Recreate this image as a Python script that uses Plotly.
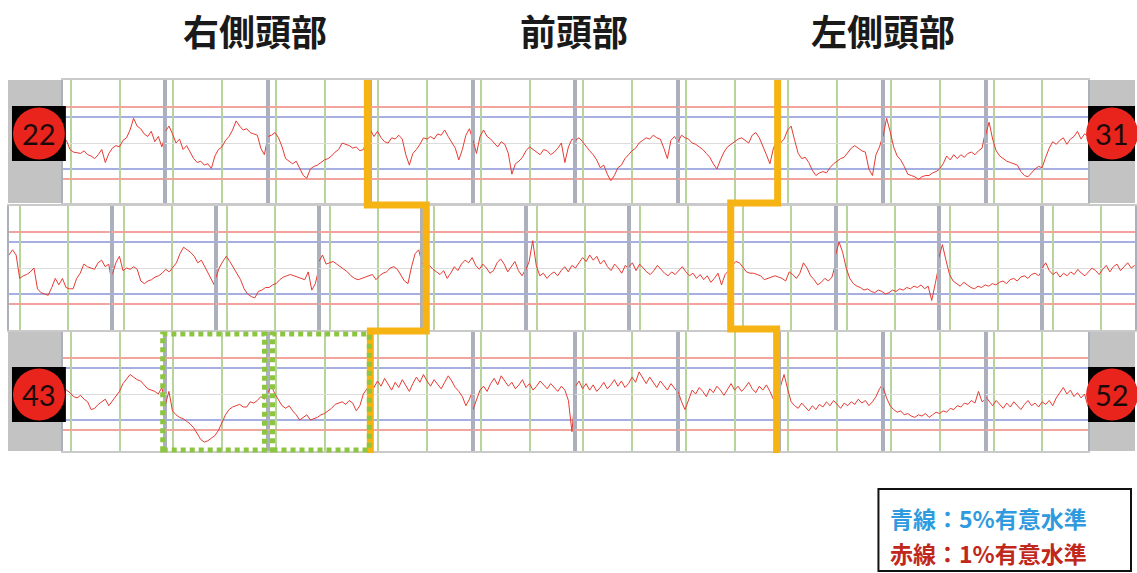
import numpy as np
import plotly.graph_objects as go

W, H = 1137, 573

# ---------------------------------------------------------------- text
region_titles = ["右側頭部", "前頭部", "左側頭部"]
legend_lines = ["青線：5%有意水準", "赤線：1%有意水準"]
legend_colors = ["#2f9bde", "#c0281b"]

# significance thresholds (t value) and task markers (s)
T05 = 2.0
T01 = 2.75
TASK_ON, TASK_OFF = 0, 49

row_channels = [list(range(22, 32)), list(range(32, 43)), list(range(43, 53))]

# ---------------------------------------------------------------- t-value time courses, 30 samples per channel
ch22 = [0.3, 0.2, -0.5, -0.7, -0.75, -0.8, -0.6, -0.9, -1.0, -1.2, -0.9, -0.5, -1.5, -0.8, -0.4,
        -0.2, -0.3, 0.2, 0.4, 1.0, 1.9, 1.3, 1.1, 0.7, 0.5, 0.9, 0.1, 0.5, -0.3, 0.6]
ch23 = [0.9, 1.3, 0.7, 0.0, 0.3, -0.5, -0.2, -0.7, -1.2, -1.5, -1.4, -1.7, -1.6, -1.95, -1.0,
        -0.5, -0.3, 0.2, 0.5, 1.0, 1.7, 1.3, 1.0, 1.1, 0.8, 0.7, 0.6, -0.4, -0.9, 0.5]
ch24 = [0.5, 0.6, 0.8, 0.4, -0.3, -1.2, -1.4, -1.6, -1.4, -1.9, -2.5, -2.7, -2.0, -1.8, -1.7,
        -1.5, -1.3, -1.2, -1.0, -0.7, -0.5, 0.0, -0.1, -0.2, -0.4, -0.3, -0.6, -0.5, 0.2, 1.0]
ch25 = [1.0, 0.5, 0.9, 0.4, 0.1, 0.0, 0.4, 0.3, 0.6, 0.3, -0.9, -1.7, -0.8, -0.5, -0.1,
        0.4, 0.3, 0.5, 0.3, 0.7, 0.6, 1.0, 0.5, 0.1, -0.4, -1.3, -0.5, 0.6, 1.1, 0.2]
ch26 = [0.2, -0.8, 0.5, 1.0, 0.5, 0.3, 0.0, -0.3, 0.1, -0.1, -0.8, -2.4, -1.6, -1.4, -1.1,
        -0.6, -0.3, -0.5, -0.7, -0.9, -0.5, -0.6, -0.9, -0.7, -0.4, 0.0, -1.5, -0.3, 0.3, 0.2]
ch27 = [0.2, 0.4, 0.1, -0.3, -0.6, -0.9, -1.3, -1.9, -1.7, -2.4, -2.9, -2.5, -1.9, -1.7, -1.2,
        -0.9, -0.6, -0.4, 0.0, 0.2, 0.4, 0.3, 0.6, 0.4, 0.3, -0.4, -1.2, 0.2, 0.5, 0.1]
ch28 = [0.1, 0.6, 0.4, 0.3, 0.0, -0.1, -0.3, -0.5, -0.8, -1.1, -1.6, -2.0, -1.3, -0.7, -0.3,
        -0.1, 0.1, 0.3, 0.4, 0.2, 0.0, 0.6, 0.8, 0.4, -0.2, -0.9, -1.6, -0.4, 0.2, 0.4]
ch29 = [0.0, 0.3, 1.0, 1.3, 0.2, -0.8, -1.2, -1.1, -1.5, -2.1, -2.5, -2.3, -2.2, -2.3, -1.9,
        -1.6, -1.4, -1.2, -1.1, -0.7, -0.4, -0.2, -0.4, -0.6, -0.7, -2.0, -2.5, -0.9, -0.3, 0.6]
ch30 = [0.5, 1.9, 0.9, -0.3, -1.0, -1.3, -1.8, -2.4, -2.5, -2.6, -2.8, -2.6, -2.5, -2.5, -2.3,
        -2.2, -2.0, -1.6, -1.0, -1.3, -0.9, -1.2, -0.9, -1.1, -0.8, -0.7, -0.9, -0.6, -0.4, 0.9]
ch31 = [0.6, 1.6, 0.3, -0.6, -1.0, -1.2, -1.4, -1.5, -1.6, -1.7, -2.2, -2.5, -2.6, -2.3, -2.0,
        -1.8, -1.9, -1.1, -0.4, 0.1, -0.1, 0.2, 0.4, -0.1, 0.3, 0.5, 0.9, 0.3, 0.7, 0.5]

ch32 = [1.0, 1.4, 1.0, -0.8, -0.6, -0.5, -0.3, 0.0, -1.6, -1.9, -2.0, -2.1, -1.5, -0.8, -1.3,
        -0.8, -1.5, -1.6, -1.6, -0.8, -0.4, 0.3, 0.1, 0.0, -0.1, 0.4, 0.6, 0.1, 0.3, -1.3]
ch33 = [-0.5, 0.4, 0.9, -0.2, 0.0, -0.1, 0.1, -0.1, -1.0, -1.2, -1.0, -0.9, -0.7, -0.6, -0.4,
        -0.1, -0.3, 0.1, 0.4, 1.1, 1.6, 1.4, 1.2, 0.9, 0.4, 0.6, 0.1, -0.4, -0.9, -1.5]
ch34 = [-0.8, 0.0, 0.5, 0.9, 0.5, 0.0, -0.5, -0.9, -1.6, -2.0, -2.2, -2.3, -1.8, -1.7, -1.5,
        -1.5, -1.3, -1.2, -0.9, -0.7, -0.6, -0.5, -0.6, -0.7, -0.8, -0.9, -0.3, -1.7, -1.2, 0.0]
ch35 = [0.5, 1.0, 0.3, 0.4, 0.5, 0.3, 0.1, -0.1, -0.3, -0.6, -0.8, -0.9, -0.8, -0.7, -0.6,
        -0.5, -0.9, -0.6, -0.4, -0.3, 0.0, 0.1, -0.1, -0.6, -1.0, -1.2, 0.1, 1.1, 1.4, 0.3]
ch36 = [0.3, 0.6, 0.2, -0.1, -0.3, -0.5, -0.2, -0.8, -0.4, 0.1, -0.2, 0.3, 0.6, 0.4, 0.8,
        0.2, -0.1, 0.3, 0.0, -0.4, -0.2, 0.4, 0.7, 0.3, -0.3, 0.1, 0.5, -0.2, -0.6, -0.1]
ch37 = [-0.2, 0.5, 2.1, 0.2, -0.6, -0.4, -0.8, -0.5, -0.3, -0.6, -0.2, 0.1, -0.3, 0.2, 0.0,
        0.4, 0.8, 0.5, 1.0, 0.6, 0.9, 0.3, 0.6, 0.1, -0.2, 0.3, 0.0, -0.4, 0.2, -0.1]
ch38 = [0.1, 0.4, -0.2, 0.3, 0.0, -0.3, -0.5, -0.2, 0.2, -0.1, -0.4, -0.6, -0.3, -0.5, -0.2,
        0.1, -0.3, -0.6, -0.4, -0.8, -0.5, -0.9, -0.6, -1.1, -0.8, -0.4, -1.3, -0.5, -0.2, 0.3]
ch39 = [0.2, 0.5, 0.4, 0.0, -0.3, -0.4, -0.4, -0.5, -0.6, -0.9, -0.8, -0.7, -0.6, -0.7, -0.8,
        -1.0, -0.3, -0.5, -0.8, -0.4, 0.4, 0.0, -0.6, -0.9, -1.3, -1.1, -0.8, -1.0, -0.7, 0.3]
ch40 = [1.0, 2.0, 1.2, 0.0, -0.8, -1.2, -1.4, -1.5, -1.7, -1.6, -1.8, -1.9, -1.7, -1.8, -2.0,
        -1.9, -1.7, -1.8, -1.6, -1.7, -1.5, -1.6, -1.4, -1.5, -1.3, -1.6, -1.4, -2.5, -1.2, 0.2]
ch41 = [0.8, 1.8, 0.6, -0.5, -1.0, -1.2, -1.4, -1.1, -1.3, -1.5, -1.6, -1.4, -1.5, -1.3, -1.4,
        -1.2, -1.3, -1.1, -1.0, -1.2, -0.9, -0.8, -1.0, -0.7, -0.6, -0.8, -0.5, -0.4, -0.6, -0.2]
ch42 = [0.0, 0.4, -0.2, -0.5, -0.3, -0.7, -0.4, -0.6, -0.3, -0.5, -0.1, -0.4, -0.6, -0.3, 0.0,
        -0.2, -0.5, -0.1, 0.2, -0.3, 0.1, 0.3, -0.2, 0.1, 0.4, 0.0, 0.2]

ch43 = [0.4, 0.3, 0.1, -0.2, -0.3, -0.1, -0.4, -0.6, -1.2, -1.1, -0.8, -0.6, -0.4, -0.9, -0.5,
        -0.1, 0.2, 0.8, 1.2, 1.5, 1.3, 1.1, 1.0, 0.7, 0.4, 0.3, 0.2, 0.0, 0.5, -0.8]
ch44 = [-0.8, 0.2, -1.3, -1.6, -1.8, -1.9, -2.1, -2.3, -2.6, -3.1, -3.5, -3.7, -3.6, -3.4, -3.2,
        -2.8, -2.2, -1.6, -1.2, -1.0, -0.9, -0.8, -1.0, -1.0, -0.6, -0.7, -0.5, -0.2, -0.4, 0.1]
ch45 = [0.1, 0.6, 0.0, -0.5, -0.9, -1.1, -0.9, -1.3, -1.6, -2.0, -1.8, -1.6, -2.0, -1.9, -1.8,
        -1.6, -1.5, -1.3, -1.1, -0.8, -0.7, -0.6, -0.8, -0.5, -0.7, -1.3, -0.9, 0.0, 0.4, 0.7]
ch46 = [0.8, 0.5, 1.0, 0.6, 1.2, 0.7, 0.3, 0.9, 0.5, 1.1, 0.6, 0.2, 0.8, 1.3, 0.9,
        1.5, 1.0, 0.6, 1.1, 0.7, 0.4, 0.9, 1.4, 1.0, 0.5, 0.2, -0.2, -0.9, -0.4, 0.3]
ch47 = [-1.2, -0.4, 0.3, 0.6, 0.2, 0.8, 1.2, 0.7, 1.4, 1.0, 0.6, 0.9, 0.4, 0.7, 1.1,
        0.5, 0.8, 0.3, 0.6, 1.0, 0.7, 0.4, 0.8, 0.5, 0.2, 0.6, 0.3, -0.5, -2.9, 0.2]
ch48 = [0.6, 1.0, 0.4, 0.8, 0.3, 0.7, 0.2, 0.5, 0.9, 0.4, 0.7, 1.1, 0.6, 1.0, 0.5,
        0.8, 1.3, 0.9, 1.7, 1.2, 0.8, 1.3, 0.9, 0.5, 1.0, 0.6, 0.3, 0.8, 0.4, 0.1]
ch49 = [0.2, -0.6, -1.2, -0.4, 0.3, 0.0, 0.5, 0.2, -0.2, 0.4, 0.1, 0.6, 0.3, -0.1, 0.4,
        0.8, 0.3, 0.6, 0.2, 0.5, 0.9, 0.4, 0.1, 0.6, 0.3, 0.7, 0.2, -0.4, -1.0, 0.4]
ch50 = [0.6, 1.5, 0.4, -0.6, -0.9, -1.1, -0.7, -1.0, -1.3, -0.9, -1.2, -0.8, -1.0, -0.6, -0.9,
        -0.5, -0.8, -1.1, -0.7, -0.9, -0.6, -0.8, -0.4, -0.7, -0.5, -0.9, -0.6, -0.2, 0.4, 0.8]
ch51 = [0.5, -0.3, -0.9, -1.2, -1.4, -1.3, -1.6, -1.5, -1.7, -1.8, -1.6, -1.7, -1.5, -1.8, -1.6,
        -1.4, -1.5, -1.3, -1.4, -1.1, -1.2, -0.9, -1.0, -0.7, -0.8, -0.5, -0.7, 0.2, -0.6, -0.4]
ch52 = [-0.2, -0.6, -0.9, -0.5, -0.8, -1.1, -0.7, -1.0, -0.6, -0.9, -1.2, -0.8, -0.5, -0.9, -0.7,
        -1.0, -0.6, -0.8, -0.5, -0.9, -0.3, 0.1, 0.5, 0.0, 0.3, -0.2, 0.1, -0.3, 0.0, -1.0]

series = {c: globals()[f"ch{c}"] for row in row_channels for c in row}

# ---------------------------------------------------------------- panel geometry (pixels)
PX_PER_T = 13.0
rows = [
    # left edge, panel width, top, bottom, zero line, time window (s)
    dict(left=63, width=102.7, top=80, bottom=203, zero=143, window=(-8, 95)),
    dict(left=9, width=103.5, top=206, bottom=330, zero=268, window=(-11.5, 94)),
    dict(left=63, width=102.7, top=332, bottom=451, zero=394, window=(-8, 95)),
]
N_SAMPLES = 30


def fx(x):
    return x / W


def fy(y):
    return 1 - y / H


fig = go.Figure()
axis_id = 0
for r, chans in enumerate(row_channels):
    g = rows[r]
    t0, t1 = g["window"]
    t = np.linspace(t0, t1, N_SAMPLES)
    yr = [-(g["bottom"] - g["zero"]) / PX_PER_T, (g["zero"] - g["top"]) / PX_PER_T]
    for k, ch in enumerate(chans):
        axis_id += 1
        sfx = "" if axis_id == 1 else str(axis_id)
        x0 = g["left"] + k * g["width"]
        x1 = x0 + g["width"]
        xr = [t0, t1]
        if x1 > W:  # last panel runs off the page edge
            xr = [t0, t0 + (W - x0) / g["width"] * (t1 - t0)]
            x1 = W
        vals = series[ch]
        fig.add_trace(go.Scatter(
            x=t[:len(vals)], y=vals, mode="lines",
            line=dict(color="#e53b33", width=1),
            xaxis="x" + sfx, yaxis="y" + sfx,
            hoverinfo="skip", showlegend=False,
        ))
        fig.layout["xaxis" + sfx] = dict(
            domain=[fx(x0), fx(x1)], range=xr, anchor="y" + sfx,
            showline=True, mirror=True, linecolor="#cacaca", linewidth=2,
            tickmode="array", tickvals=[TASK_ON, TASK_OFF], showticklabels=False, ticks="",
            showgrid=True, gridcolor="#b7d49d", gridwidth=1.5, zeroline=False, fixedrange=True,
        )
        fig.layout["yaxis" + sfx] = dict(
            domain=[fy(g["bottom"]), fy(g["top"])], range=yr, anchor="x" + sfx,
            showline=True, mirror=True, linecolor="#abb0bc", linewidth=1.5,
            tickmode="array", tickvals=[-T01, T01], showticklabels=False, ticks="",
            showgrid=True, gridcolor="#f2a59d", gridwidth=1.5,
            minor=dict(tickmode="array", tickvals=[-T05, T05], showgrid=True,
                       gridcolor="#a7aee2", gridwidth=1.5, ticks=""),
            zeroline=True, zerolinecolor="#dcdcdc", zerolinewidth=1, fixedrange=True,
        )

# ---------------------------------------------------------------- decorations
shapes = []


def rect(x0, y0, x1, y1, **kw):
    shapes.append(dict(type="rect", xref="paper", yref="paper",
                       x0=fx(x0), x1=fx(x1), y0=fy(y1), y1=fy(y0), **kw))


def circle(cx, cy, rad, **kw):
    shapes.append(dict(type="circle", xref="paper", yref="paper",
                       x0=fx(cx - rad), x1=fx(cx + rad), y0=fy(cy + rad), y1=fy(cy - rad), **kw))


def polyline(points, **kw):
    d = "M " + " L ".join(f"{fx(x):.5f},{fy(y):.5f}" for x, y in points)
    shapes.append(dict(type="path", xref="paper", yref="paper", path=d, **kw))


annotations = []

# channel badges on the outer ends of rows 1 and 3
badges = [
    (0, row_channels[0][0], "left", 133.5), (0, row_channels[0][-1], "right", 133.5),
    (2, row_channels[2][0], "left", 394.5), (2, row_channels[2][-1], "right", 394.5),
]
for r, ch, side, cy in badges:
    g = rows[r]
    if side == "left":
        rect(8, g["top"], g["left"], g["bottom"], fillcolor="#c3c3c3", line=dict(width=0), layer="below")
        rect(12, cy - 27.5, 66, cy + 27.5, fillcolor="#000000", line=dict(width=0))
        cx = 39
    else:
        right = g["left"] + len(row_channels[r]) * g["width"]
        rect(right, g["top"], W, g["bottom"], fillcolor="#c3c3c3", line=dict(width=0), layer="below")
        rect(right, cy - 27.5, W, cy + 27.5, fillcolor="#000000", line=dict(width=0))
        cx = right + 24
    circle(cx, cy, 26, fillcolor="#e8241d", line=dict(width=0))
    annotations.append(dict(xref="paper", yref="paper", x=fx(cx), y=fy(cy), text=str(ch),
                            showarrow=False, xanchor="center", yanchor="middle",
                            font=dict(family="Lato, Open Sans, sans-serif", size=29, color="#1c0a0a")))

# region boundaries
ORANGE = "#f6b414"
polyline([(368, 80), (368, 205), (427, 205), (427, 331), (371, 331), (371, 453)],
         line=dict(color=ORANGE, width=7))
polyline([(779, 80), (779, 203), (732, 203), (732, 329), (778, 329), (778, 453)],
         line=dict(color=ORANGE, width=7))

# highlighted channels 44 and 45
for x0, x1 in [(163, 265), (273, 370)]:
    rect(x0, 334, x1, 450, line=dict(color="#8cc53f", width=5, dash="5px,4px"), fillcolor="rgba(0,0,0,0)")

# legend box
rect(880, 489, 1133, 571, line=dict(color="#111111", width=2), fillcolor="#ffffff")
for txt, col, yy in zip(legend_lines, legend_colors, [518, 553]):
    annotations.append(dict(xref="paper", yref="paper", x=fx(891), y=fy(yy), text=txt,
                            showarrow=False, xanchor="left", yanchor="middle", borderpad=0,
                            font=dict(family="Noto Sans CJK JP", size=23, color=col, weight="bold")))

# region titles
for txt, cx in zip(region_titles, [255, 575, 885]):
    annotations.append(dict(xref="paper", yref="paper", x=fx(cx), y=fy(30), text=txt,
                            showarrow=False, xanchor="center", yanchor="middle",
                            font=dict(family="Noto Sans CJK JP", size=36, color="#1a1a1a", weight="bold")))

fig.update_layout(
    width=W, height=H, margin=dict(l=0, r=0, t=0, b=0),
    paper_bgcolor="#ffffff", plot_bgcolor="#ffffff",
    showlegend=False, shapes=shapes, annotations=annotations,
)

fig.write_html("out.html")
